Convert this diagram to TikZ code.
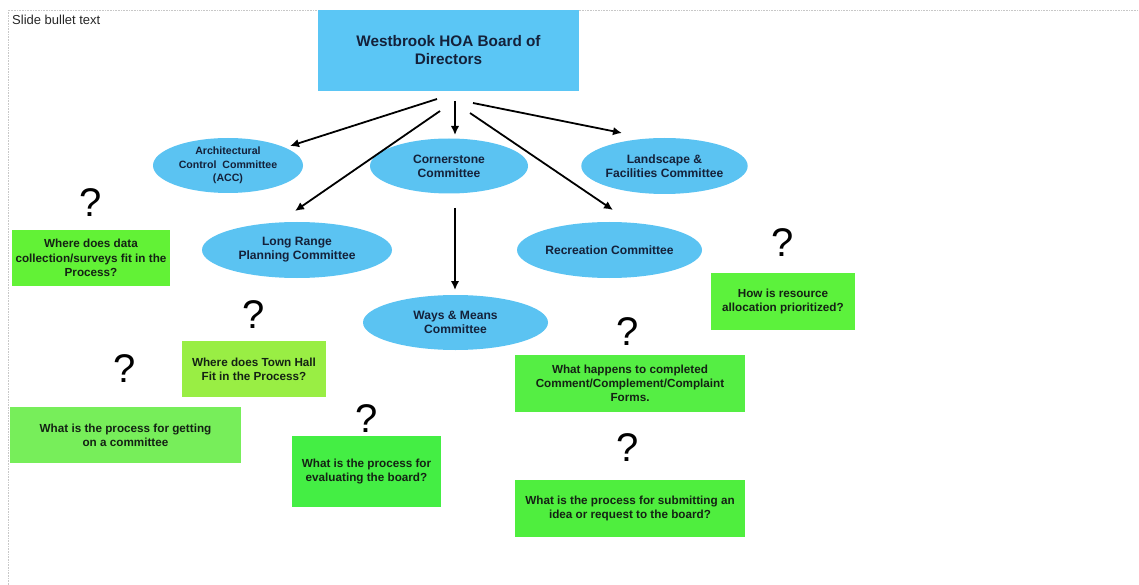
\documentclass[tikz,border=0pt]{standalone}
\usepackage{fontspec}
\setmainfont{Liberation Sans}
\usetikzlibrary{shapes.geometric,arrows.meta}
\definecolor{boardblue}{HTML}{5BC6F5}
\definecolor{ellblue}{HTML}{5BC3F2}
\definecolor{ink}{HTML}{14213A}
\definecolor{boxink}{HTML}{142214}
\definecolor{gA}{HTML}{62F236}
\definecolor{gB}{HTML}{99EE44}
\definecolor{gC}{HTML}{77EE5A}
\definecolor{gD}{HTML}{44EE44}
\definecolor{gE}{HTML}{5CF23C}
\definecolor{gF}{HTML}{55EE44}
\definecolor{gG}{HTML}{4FEE3E}
\definecolor{framegray}{HTML}{C8C8C8}
\begin{document}
\begin{tikzpicture}[x=1pt,y=-1pt,
  boardbox/.style={rectangle,fill=boardblue,inner sep=0pt,minimum width=261pt,minimum height=81pt,align=center,text=ink,font=\bfseries\fontsize{15.3}{18}\selectfont},
  comm/.style={ellipse,fill=ellblue,inner sep=0pt,align=center,text=ink,font=\bfseries\fontsize{12.1}{14}\selectfont},
  qbox/.style={rectangle,inner sep=0pt,align=center,text=boxink,font=\bfseries\fontsize{11.7}{14.2}\selectfont},
  qmark/.style={inner sep=0pt,font=\fontsize{40}{40}\selectfont},
  arr/.style={-{Latex[length=9pt,width=8.5pt]},line width=1.8pt}]
\useasboundingbox (0,0) rectangle (1139,585);
\draw[framegray,densely dotted,line width=0.6pt] (8,585) -- (8,10) -- (1139,10);
\node[anchor=base west,inner sep=0pt,font=\fontsize{13}{15}\selectfont,text=black!85] (slide) at (12,25) {Slide bullet text};
\node[boardbox] (board) at (448.5,50.5) {Westbrook HOA Board of\\Directors};
% committees
\node[comm,minimum width=150pt,minimum height=55pt,font=\bfseries\fontsize{10.6}{13.5}\selectfont] (acc) at (228,165.5) {Architectural\\Control~ Committee\\(ACC)};
\node[comm,minimum width=158pt,minimum height=55pt] (cs) at (449,166) {Cornerstone\\Committee};
\node[comm,minimum width=165pt,minimum height=56pt] (ls) at (664.5,166) {Landscape \&\\Facilities Committee};
\node[comm,minimum width=190pt,minimum height=56pt] (lr) at (297,250) {Long Range\\Planning Committee};
\node[comm,minimum width=185pt,minimum height=56pt] (rc) at (609.5,250) {Recreation Committee};
\node[comm,minimum width=185pt,minimum height=55pt] (wm) at (455.5,322.5) {Ways \& Means\\Committee};
% arrow ends
\coordinate (s1) at (437,99);  \coordinate (e1) at (290,146);
\coordinate (s2) at (455,101); \coordinate (e2) at (455,135);
\coordinate (s3) at (473,103); \coordinate (e3) at (622,133);
\coordinate (s4) at (440,111); \coordinate (e4) at (295,211);
\coordinate (s5) at (470,113); \coordinate (e5) at (613,210);
\coordinate (s6) at (455,208); \coordinate (e6) at (455,290);
\draw[arr] (s1) -- (e1);
\draw[arr] (s2) -- (e2);
\draw[arr] (s3) -- (e3);
\draw[arr] (s4) -- (e4);
\draw[arr] (s5) -- (e5);
\draw[arr] (s6) -- (e6);
% question boxes
\node[qbox,fill=gA,minimum width=158pt,minimum height=56pt] (b1) at (91,258) {Where does data\\collection/surveys fit in the\\Process?};
\node[qbox,fill=gB,minimum width=144pt,minimum height=56pt] (b2) at (254,369) {Where does Town Hall\\Fit in the Process?};
\node[qbox,fill=gC,minimum width=231pt,minimum height=56pt] (b3) at (125.5,435) {What is the process for getting\\on a committee};
\node[qbox,fill=gD,minimum width=149pt,minimum height=71pt] (b4) at (366.5,471.5) {What is the process for\\evaluating the board?};
\node[qbox,fill=gE,minimum width=144pt,minimum height=57pt] (b5) at (783,301.5) {How is resource\\allocation prioritized?};
\node[qbox,fill=gF,minimum width=230pt,minimum height=57pt] (b6) at (630,383.5) {What happens to completed\\Comment/Complement/Complaint\\Forms.};
\node[qbox,fill=gG,minimum width=230pt,minimum height=57pt] (b7) at (630,508.5) {What is the process for submitting an\\idea or request to the board?};
% question marks
\node[qmark] (q1) at (91,203) {?};
\node[qmark] (q2) at (254,315) {?};
\node[qmark] (q3) at (125,369) {?};
\node[qmark] (q4) at (367,419) {?};
\node[qmark] (q5) at (783,243) {?};
\node[qmark] (q6) at (628,332) {?};
\node[qmark] (q7) at (628,448) {?};
\end{tikzpicture}
\end{document}
